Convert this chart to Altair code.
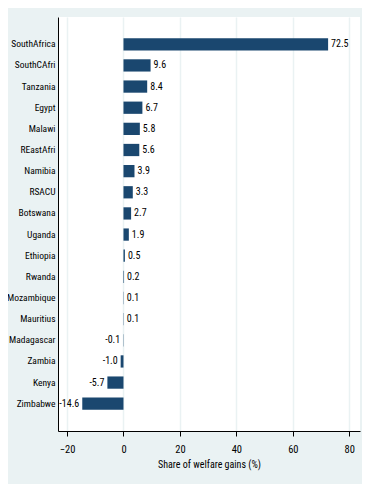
import altair as alt
import pandas as pd

countries = ["SouthAfrica", "SouthCAfri", "Tanzania", "Egypt", "Malawi", "REastAfri",
             "Namibia", "RSACU", "Botswana", "Uganda", "Ethiopia", "Rwanda",
             "Mozambique", "Mauritius", "Madagascar", "Zambia", "Kenya", "Zimbabwe"]
values = [72.5, 9.6, 8.4, 6.7, 5.8, 5.6, 3.9, 3.3, 2.7, 1.9, 0.5, 0.2, 0.1, 0.1,
          -0.1, -1.0, -5.7, -14.6]
x_ticks = [-20, 0, 20, 40, 60, 80]

df = pd.DataFrame({"country": countries, "value": values})
df["label"] = [f"{v:.1f}" for v in values]

FONT = "Roboto Condensed"
NAVY = "#1a476f"

x = alt.X("value:Q",
          scale=alt.Scale(domain=[-23.2, 83.8], nice=False, zero=False),
          axis=alt.Axis(values=x_ticks, title="Share of welfare gains (%)",
                        grid=True, gridColor="#eaf2f3", gridWidth=1.5,
                        tickSize=5, tickColor="black", domainColor="black",
                        labelPadding=8, labelFont=FONT, labelFontSize=10.5,
                        labelColor="black", titleFont=FONT, titleFontSize=10,
                        titleFontWeight="normal", titleColor="black", titlePadding=5))
y = alt.Y("country:N", sort=countries,
          scale=alt.Scale(paddingInner=0.42, paddingOuter=1.0),
          axis=alt.Axis(title=None, ticks=False, grid=False, domainColor="black",
                        labelPadding=3, labelFont=FONT, labelFontSize=9.5,
                        labelColor="black"))

bars = alt.Chart(df).mark_bar(color=NAVY).encode(x=x, y=y)

pos = alt.Chart(df).transform_filter("datum.value >= 0").mark_text(
    align="left", baseline="middle", dx=3, font=FONT, fontSize=10, color="black"
).encode(x="value:Q", y=alt.Y("country:N", sort=countries), text="label:N")

neg = alt.Chart(df).transform_filter("datum.value < 0").mark_text(
    align="right", baseline="middle", dx=-3, font=FONT, fontSize=10, color="black"
).encode(x="value:Q", y=alt.Y("country:N", sort=countries), text="label:N")

chart = alt.layer(bars, pos, neg).properties(
    width=302, height=414,
    background="#eaf2f3",
    autosize=alt.AutoSizeParams(type="none"),
    padding={"left": 50, "top": 9, "right": 2, "bottom": 53},
).configure_view(fill="white", stroke=None)

chart.save("out.html", embed_options={"renderer": "svg", "actions": False})
